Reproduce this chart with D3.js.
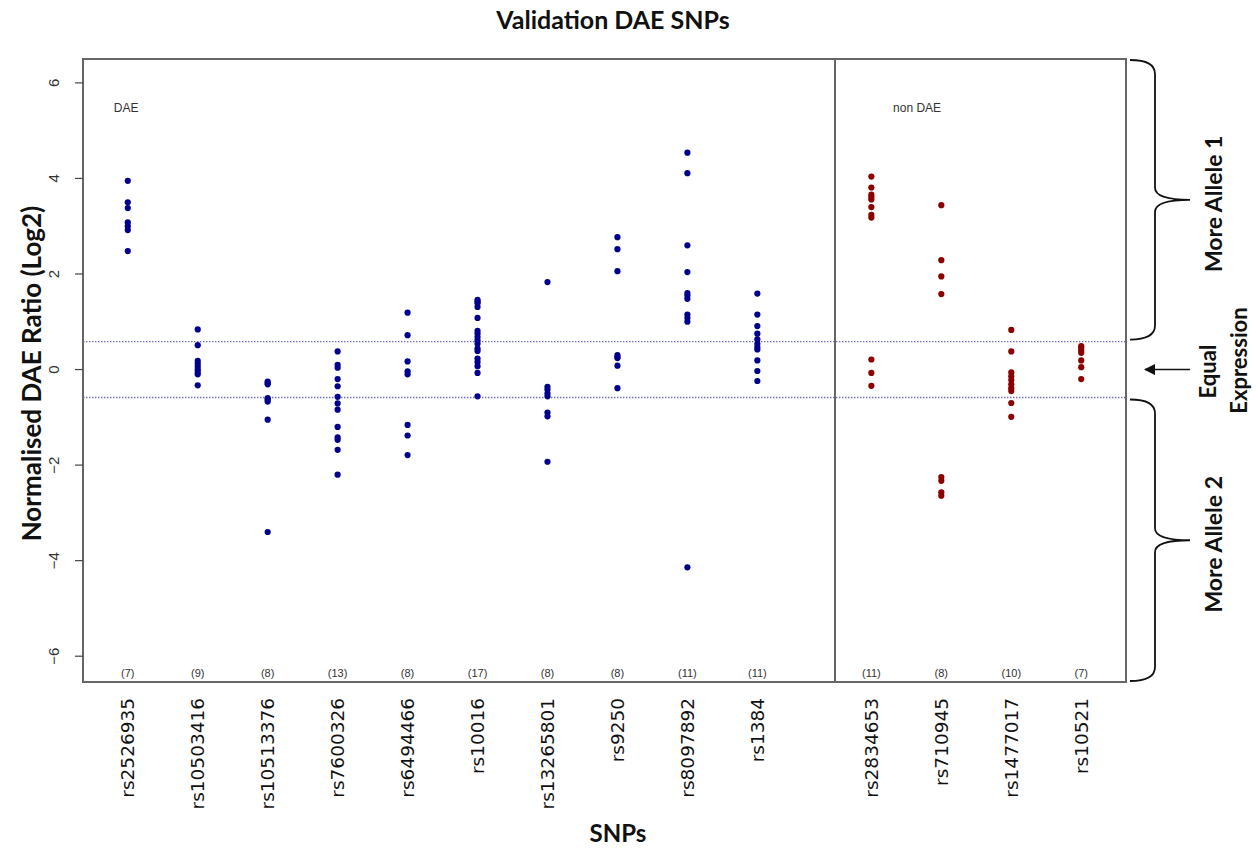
<!DOCTYPE html>
<html>
<head>
<meta charset="utf-8">
<script src="https://cdn.jsdelivr.net/npm/d3@7"></script>
<style>
  html, body { margin: 0; padding: 0; background: #fff; }
  svg { display: block; }
</style>
</head>
<body>
<svg id="chart" width="1256" height="849"></svg>
<script>
// SNP groups
const daeSnps = ["rs2526935", "rs10503416", "rs10513376", "rs7600326", "rs6494466",
                 "rs10016", "rs13265801", "rs9250", "rs8097892", "rs1384"];
const nonDaeSnps = ["rs2834653", "rs710945", "rs1477017", "rs10521"];

// Normalised DAE ratios (log2), one array per SNP
const daeValues = [
  [3.95, 3.5, 3.38, 3.08, 3.0, 2.92, 2.48],
  [0.84, 0.51, 0.18, 0.12, 0.06, 0.0, -0.05, -0.1, -0.33],
  [-0.25, -0.28, -0.31, -0.6, -0.63, -0.67, -1.05, -3.4],
  [0.38, 0.1, 0.04, -0.2, -0.35, -0.57, -0.71, -0.84, -1.2, -1.42, -1.47, -1.68, -2.2],
  [1.19, 0.72, 0.17, -0.04, -0.1, -1.16, -1.38, -1.79],
  [1.46, 1.42, 1.39, 1.31, 1.08, 0.81, 0.75, 0.68, 0.61, 0.54, 0.44, 0.39, 0.23, 0.16, 0.07, -0.07, -0.56],
  [1.83, -0.36, -0.42, -0.5, -0.56, -0.9, -0.98, -1.93],
  [2.77, 2.52, 2.06, 0.3, 0.26, 0.24, 0.08, -0.39],
  [4.54, 4.11, 2.6, 2.04, 1.6, 1.55, 1.48, 1.15, 1.08, 1.0, -4.14],
  [1.59, 1.15, 0.91, 0.75, 0.63, 0.54, 0.47, 0.42, 0.19, -0.03, -0.24]
];
const nonDaeValues = [
  [4.04, 3.81, 3.66, 3.61, 3.56, 3.4, 3.24, 3.18, 0.21, -0.07, -0.34],
  [3.44, 2.29, 1.95, 1.58, -2.25, -2.33, -2.57, -2.64],
  [0.83, 0.38, -0.06, -0.14, -0.22, -0.31, -0.39, -0.45, -0.7, -0.99],
  [0.49, 0.45, 0.4, 0.35, 0.19, 0.05, -0.2]
];

const yTicks = [-6, -4, -2, 0, 2, 4, 6];
const threshold = Math.log2(1.5);   // 1.5-fold allelic imbalance

const svg = d3.select("#chart");

// plotting region
const plotLeft = 83, plotRight = 1126, plotTop = 59, plotBottom = 682;
const groupGap = 0.63;               // extra spacing before the non-DAE group
const x = d3.scaleLinear().domain([-0.64, 14.27]).range([plotLeft, plotRight]);
const y = d3.scaleLinear().domain([-6.54, 6.5]).range([plotBottom, plotTop]);

const columns = [
  ...daeSnps.map((snp, i) => ({ snp, pos: i, values: daeValues[i], color: "#00008B" })),
  ...nonDaeSnps.map((snp, j) => ({ snp, pos: daeSnps.length + groupGap + j, values: nonDaeValues[j], color: "#8B0000" }))
];

// threshold lines
svg.append("g").selectAll("line")
  .data([threshold, -threshold])
  .join("line")
  .attr("x1", plotLeft).attr("x2", plotRight)
  .attr("y1", d => y(d)).attr("y2", d => y(d))
  .attr("stroke", "#6a6ac0")
  .attr("stroke-width", 1.3)
  .attr("stroke-dasharray", "1.4,1.6");

// points
const cols = svg.append("g").selectAll("g")
  .data(columns)
  .join("g");
cols.selectAll("circle")
  .data(d => d.values.map(v => ({ v, pos: d.pos, color: d.color })))
  .join("circle")
  .attr("cx", d => x(d.pos))
  .attr("cy", d => y(d.v))
  .attr("r", 3.1)
  .attr("fill", d => d.color);

// frame and group divider
const divider = daeSnps.length + 0.11;
svg.append("rect")
  .attr("x", plotLeft).attr("y", plotTop)
  .attr("width", plotRight - plotLeft).attr("height", plotBottom - plotTop)
  .attr("fill", "none").attr("stroke", "#666").attr("stroke-width", 2);
svg.append("line")
  .attr("x1", x(divider)).attr("x2", x(divider))
  .attr("y1", plotTop).attr("y2", plotBottom)
  .attr("stroke", "#666").attr("stroke-width", 2);

// y axis
const yAxis = svg.append("g");
yAxis.selectAll("line")
  .data(yTicks).join("line")
  .attr("x1", plotLeft - 8).attr("x2", plotLeft)
  .attr("y1", d => y(d)).attr("y2", d => y(d))
  .attr("stroke", "#444").attr("stroke-width", 1.2);
yAxis.selectAll("text")
  .data(yTicks).join("text")
  .attr("transform", d => `translate(59,${y(d)}) rotate(-90)`)
  .attr("text-anchor", "middle")
  .attr("font-family", "Liberation Sans, Arial, sans-serif")
  .attr("font-size", 15)
  .attr("fill", "#333")
  .text(d => d < 0 ? "\u2212" + Math.abs(d) : d);

// sample counts
svg.append("g").selectAll("text")
  .data(columns).join("text")
  .attr("x", d => x(d.pos))
  .attr("y", 677)
  .attr("text-anchor", "middle")
  .attr("font-family", "Liberation Sans, Arial, sans-serif")
  .attr("font-size", 11)
  .attr("fill", "#333")
  .text(d => `(${d.values.length})`);

// SNP labels
svg.append("g").selectAll("text")
  .data(columns).join("text")
  .attr("transform", d => `translate(${x(d.pos)},698) rotate(-90)`)
  .attr("dy", "0.36em")
  .attr("text-anchor", "end")
  .attr("font-family", "DejaVu Sans, Verdana, sans-serif")
  .attr("font-size", 18.5)
  .attr("fill", "#111")
  .text(d => d.snp);

// group labels
svg.append("text")
  .attr("x", x(-0.2)).attr("y", 112)
  .attr("font-family", "Liberation Sans, Arial, sans-serif")
  .attr("font-size", 12).attr("fill", "#333")
  .text("DAE");
svg.append("text")
  .attr("x", x(10.94)).attr("y", 112)
  .attr("font-family", "Liberation Sans, Arial, sans-serif")
  .attr("font-size", 12).attr("fill", "#333")
  .text("non DAE");

// titles
const boldFont = "Lato, 'Open Sans', sans-serif";
svg.append("text")
  .attr("x", 613).attr("y", 29)
  .attr("text-anchor", "middle")
  .attr("font-family", boldFont).attr("font-weight", "bold")
  .attr("font-size", 25).attr("fill", "#111")
  .text("Validation DAE SNPs");
svg.append("text")
  .attr("x", 618).attr("y", 842)
  .attr("text-anchor", "middle")
  .attr("font-family", boldFont).attr("font-weight", "bold")
  .attr("font-size", 24).attr("fill", "#111")
  .text("SNPs");
svg.append("text")
  .attr("transform", `translate(41,${y(0) + 4}) rotate(-90)`)
  .attr("text-anchor", "middle")
  .attr("font-family", boldFont).attr("font-weight", "bold")
  .attr("font-size", 26).attr("fill", "#111")
  .text("Normalised DAE Ratio (Log2)");

// braces on the right side
function brace(y0, y1) {
  const xs = 1130, xv = 1155, xt = 1190, ym = (y0 + y1) / 2;
  return `M${xs},${y0} Q${xv},${y0} ${xv},${y0 + 14} L${xv},${ym - 12} ` +
         `Q${xv},${ym} ${xt},${ym} Q${xv},${ym} ${xv},${ym + 12} ` +
         `L${xv},${y1 - 14} Q${xv},${y1} ${xs},${y1}`;
}
const annot = svg.append("g");
const braceSpans = [
  { y0: plotTop + 1, y1: y(threshold) - 2, label: "More Allele 1" },
  { y0: y(-threshold) + 2, y1: plotBottom - 1, label: "More Allele 2" }
];
annot.selectAll("path.brace")
  .data(braceSpans).join("path")
  .attr("class", "brace")
  .attr("d", d => brace(d.y0, d.y1))
  .attr("fill", "none").attr("stroke", "#111").attr("stroke-width", 1.8);
annot.selectAll("text.blabel")
  .data(braceSpans).join("text")
  .attr("class", "blabel")
  .attr("transform", d => `translate(1222,${(d.y0 + d.y1) / 2 + 4}) rotate(-90)`)
  .attr("text-anchor", "middle")
  .attr("font-family", boldFont).attr("font-weight", "bold")
  .attr("font-size", 23).attr("fill", "#111")
  .text(d => d.label);

// equal-expression arrow
svg.append("defs").append("marker")
  .attr("id", "arrowhead")
  .attr("viewBox", "0 0 10 10")
  .attr("refX", 9).attr("refY", 5)
  .attr("markerWidth", 7).attr("markerHeight", 7)
  .attr("orient", "auto")
  .append("path").attr("d", "M0,0 L10,5 L0,10 z").attr("fill", "#111");
annot.append("line")
  .attr("x1", 1190).attr("x2", 1145)
  .attr("y1", y(0)).attr("y2", y(0))
  .attr("stroke", "#111").attr("stroke-width", 1.6)
  .attr("marker-end", "url(#arrowhead)");
annot.append("text")
  .attr("transform", `translate(1216,${y(0) + 2}) rotate(-90)`)
  .attr("text-anchor", "middle")
  .attr("font-family", boldFont).attr("font-weight", "bold")
  .attr("font-size", 22).attr("fill", "#111")
  .text("Equal");
annot.append("text")
  .attr("transform", `translate(1247,${y(0) - 9}) rotate(-90)`)
  .attr("text-anchor", "middle")
  .attr("font-family", boldFont).attr("font-weight", "bold")
  .attr("font-size", 22).attr("fill", "#111")
  .text("Expression");
</script>
</body>
</html>
